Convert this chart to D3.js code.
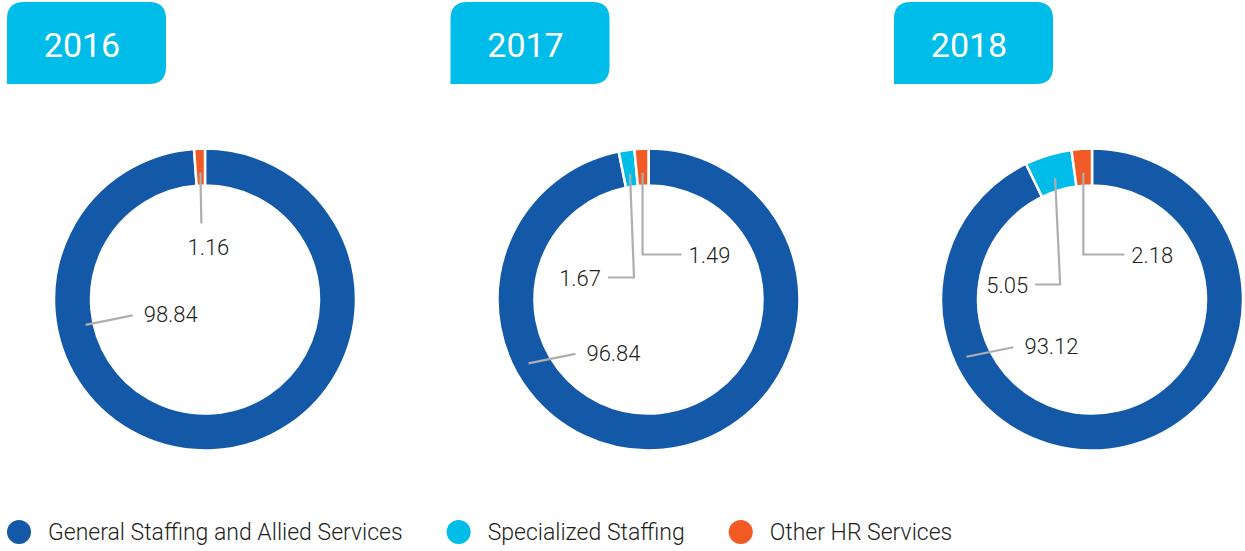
<!DOCTYPE html>
<html>
<head>
<meta charset="utf-8">
<title>Revenue mix</title>
<script src="https://cdn.jsdelivr.net/npm/d3@7"></script>
<style>
html, body { margin: 0; padding: 0; background: #ffffff; }
body { font-family: Roboto, "Noto Sans", sans-serif; color: #231f20; }
</style>
</head>
<body>
<div id="chart"></div>
<script>
// data
const years = ["2016", "2017", "2018"];
const categories = ["General Staffing and Allied Services", "Specialized Staffing", "Other HR Services"];
const general = [98.84, 96.84, 93.12];
const specialized = [0, 1.67, 5.05];
const other = [1.16, 1.49, 2.18];
const colors = ["#1459a8", "#00bce8", "#f15a24"];

// where each value label goes (relative to the donut centre)
const labelLayout = [
    [{ kind: "slant", angle: 258, r: 122 }, null, { kind: "drop", y: -76, tx: 8, ty: -45 }],
    [{ kind: "slant", angle: 242, r: 136 }, { kind: "elbow", dx: 4, y: -22, h: -26 }, { kind: "elbow", dx: 0, y: -45, h: 39 }],
    [{ kind: "slant", angle: 245.5, r: 138 }, { kind: "elbow", dx: 5, y: -15, h: -25 }, { kind: "elbow", dx: 0, y: -45, h: 41 }]
];

const width = 1245, height = 551;
const outerR = 151, innerR = 114, cy = 299.5;

const svg = d3.select("#chart").append("svg")
    .attr("width", width).attr("height", height);

const x = d3.scalePoint().domain(years).range([205, 1092]);
const fmt = d3.format(".2f");

const arc = d3.arc().innerRadius(innerR).outerRadius(outerR);
const pie = d3.pie().sort(null).value(d => d.value);

// tab shape: rounded except bottom-left corner
function tabPath(w, h, r) {
    return "M0," + h + "V" + r + "Q0,0 " + r + ",0H" + (w - r) + "Q" + w + ",0 " + w + "," + r +
        "V" + (h - r) + "Q" + w + "," + h + " " + (w - r) + "," + h + "Z";
}

years.forEach(function(year, i) {
    const cx = x(year);
    const values = [general[i], specialized[i], other[i]].map((v, k) => ({ value: v, k: k }));

    // year tab
    const tab = svg.append("g").attr("transform", "translate(" + (cx - 198) + ",2)");
    tab.append("path").attr("d", tabPath(159, 82, 17)).attr("fill", "#00bce8");
    tab.append("text")
        .attr("x", 75).attr("y", 55)
        .attr("text-anchor", "middle")
        .attr("fill", "#ffffff")
        .style("font-size", "34px")
        .text(year);

    const g = svg.append("g").attr("transform", "translate(" + cx + "," + cy + ")");
    const arcs = pie(values).filter(d => d.data.value > 0);

    g.selectAll("path.slice").data(arcs).enter().append("path")
        .attr("class", "slice")
        .attr("d", arc)
        .attr("fill", d => colors[d.data.k])
        .attr("stroke", "#ffffff")
        .attr("stroke-width", 2.5);

    // leader lines and labels
    arcs.forEach(function(d) {
        const lay = labelLayout[i][d.data.k];
        if (!lay) return;
        let a, r;
        if (lay.angle !== undefined) { a = lay.angle * Math.PI / 180; r = lay.r; }
        else { a = (d.startAngle + d.endAngle) / 2; r = 127; }
        const p0 = [r * Math.sin(a), -r * Math.cos(a)];
        let pts, tpos, anchor;
        if (lay.kind === "slant") {
            const p1 = [p0[0] + 47, p0[1] - 9.5];
            pts = [p0, p1];
            tpos = [p1[0] + 11, p1[1] + 7];
            anchor = "start";
        } else if (lay.kind === "drop") {
            const p1 = [p0[0] + 1, lay.y];
            pts = [p0, p1];
            tpos = [p0[0] + lay.tx, lay.ty];
            anchor = "middle";
        } else {
            const p1 = [p0[0] + lay.dx, lay.y];
            const p2 = [p1[0] + lay.h, lay.y];
            pts = [p0, p1, p2];
            const s = lay.h > 0 ? 1 : -1;
            tpos = [p2[0] + s * 7, lay.y + 8];
            anchor = s > 0 ? "start" : "end";
        }
        g.append("path")
            .attr("d", d3.line()(pts))
            .attr("fill", "none")
            .attr("stroke", "#aeaeae")
            .attr("stroke-width", 2.2);
        g.append("text")
            .attr("x", tpos[0]).attr("y", tpos[1])
            .attr("text-anchor", anchor)
            .attr("fill", "#231f20")
            .style("font-size", "22px")
            .style("font-weight", 300)
            .text(fmt(d.data.value));
    });
});

// legend
const legend = svg.append("g").attr("transform", "translate(0,532)");
let lx = 19;
categories.forEach(function(c, k) {
    legend.append("circle").attr("cx", lx).attr("cy", 0).attr("r", 12).attr("fill", colors[k]);
    const t = legend.append("text")
        .attr("x", lx + 29).attr("y", 0).attr("dy", "0.36em")
        .attr("fill", "#231f20")
        .style("font-size", "23px")
        .style("font-weight", 300)
        .text(c);
    lx = lx + 29 + t.node().getComputedTextLength() + 56;
});
</script>
</body>
</html>
